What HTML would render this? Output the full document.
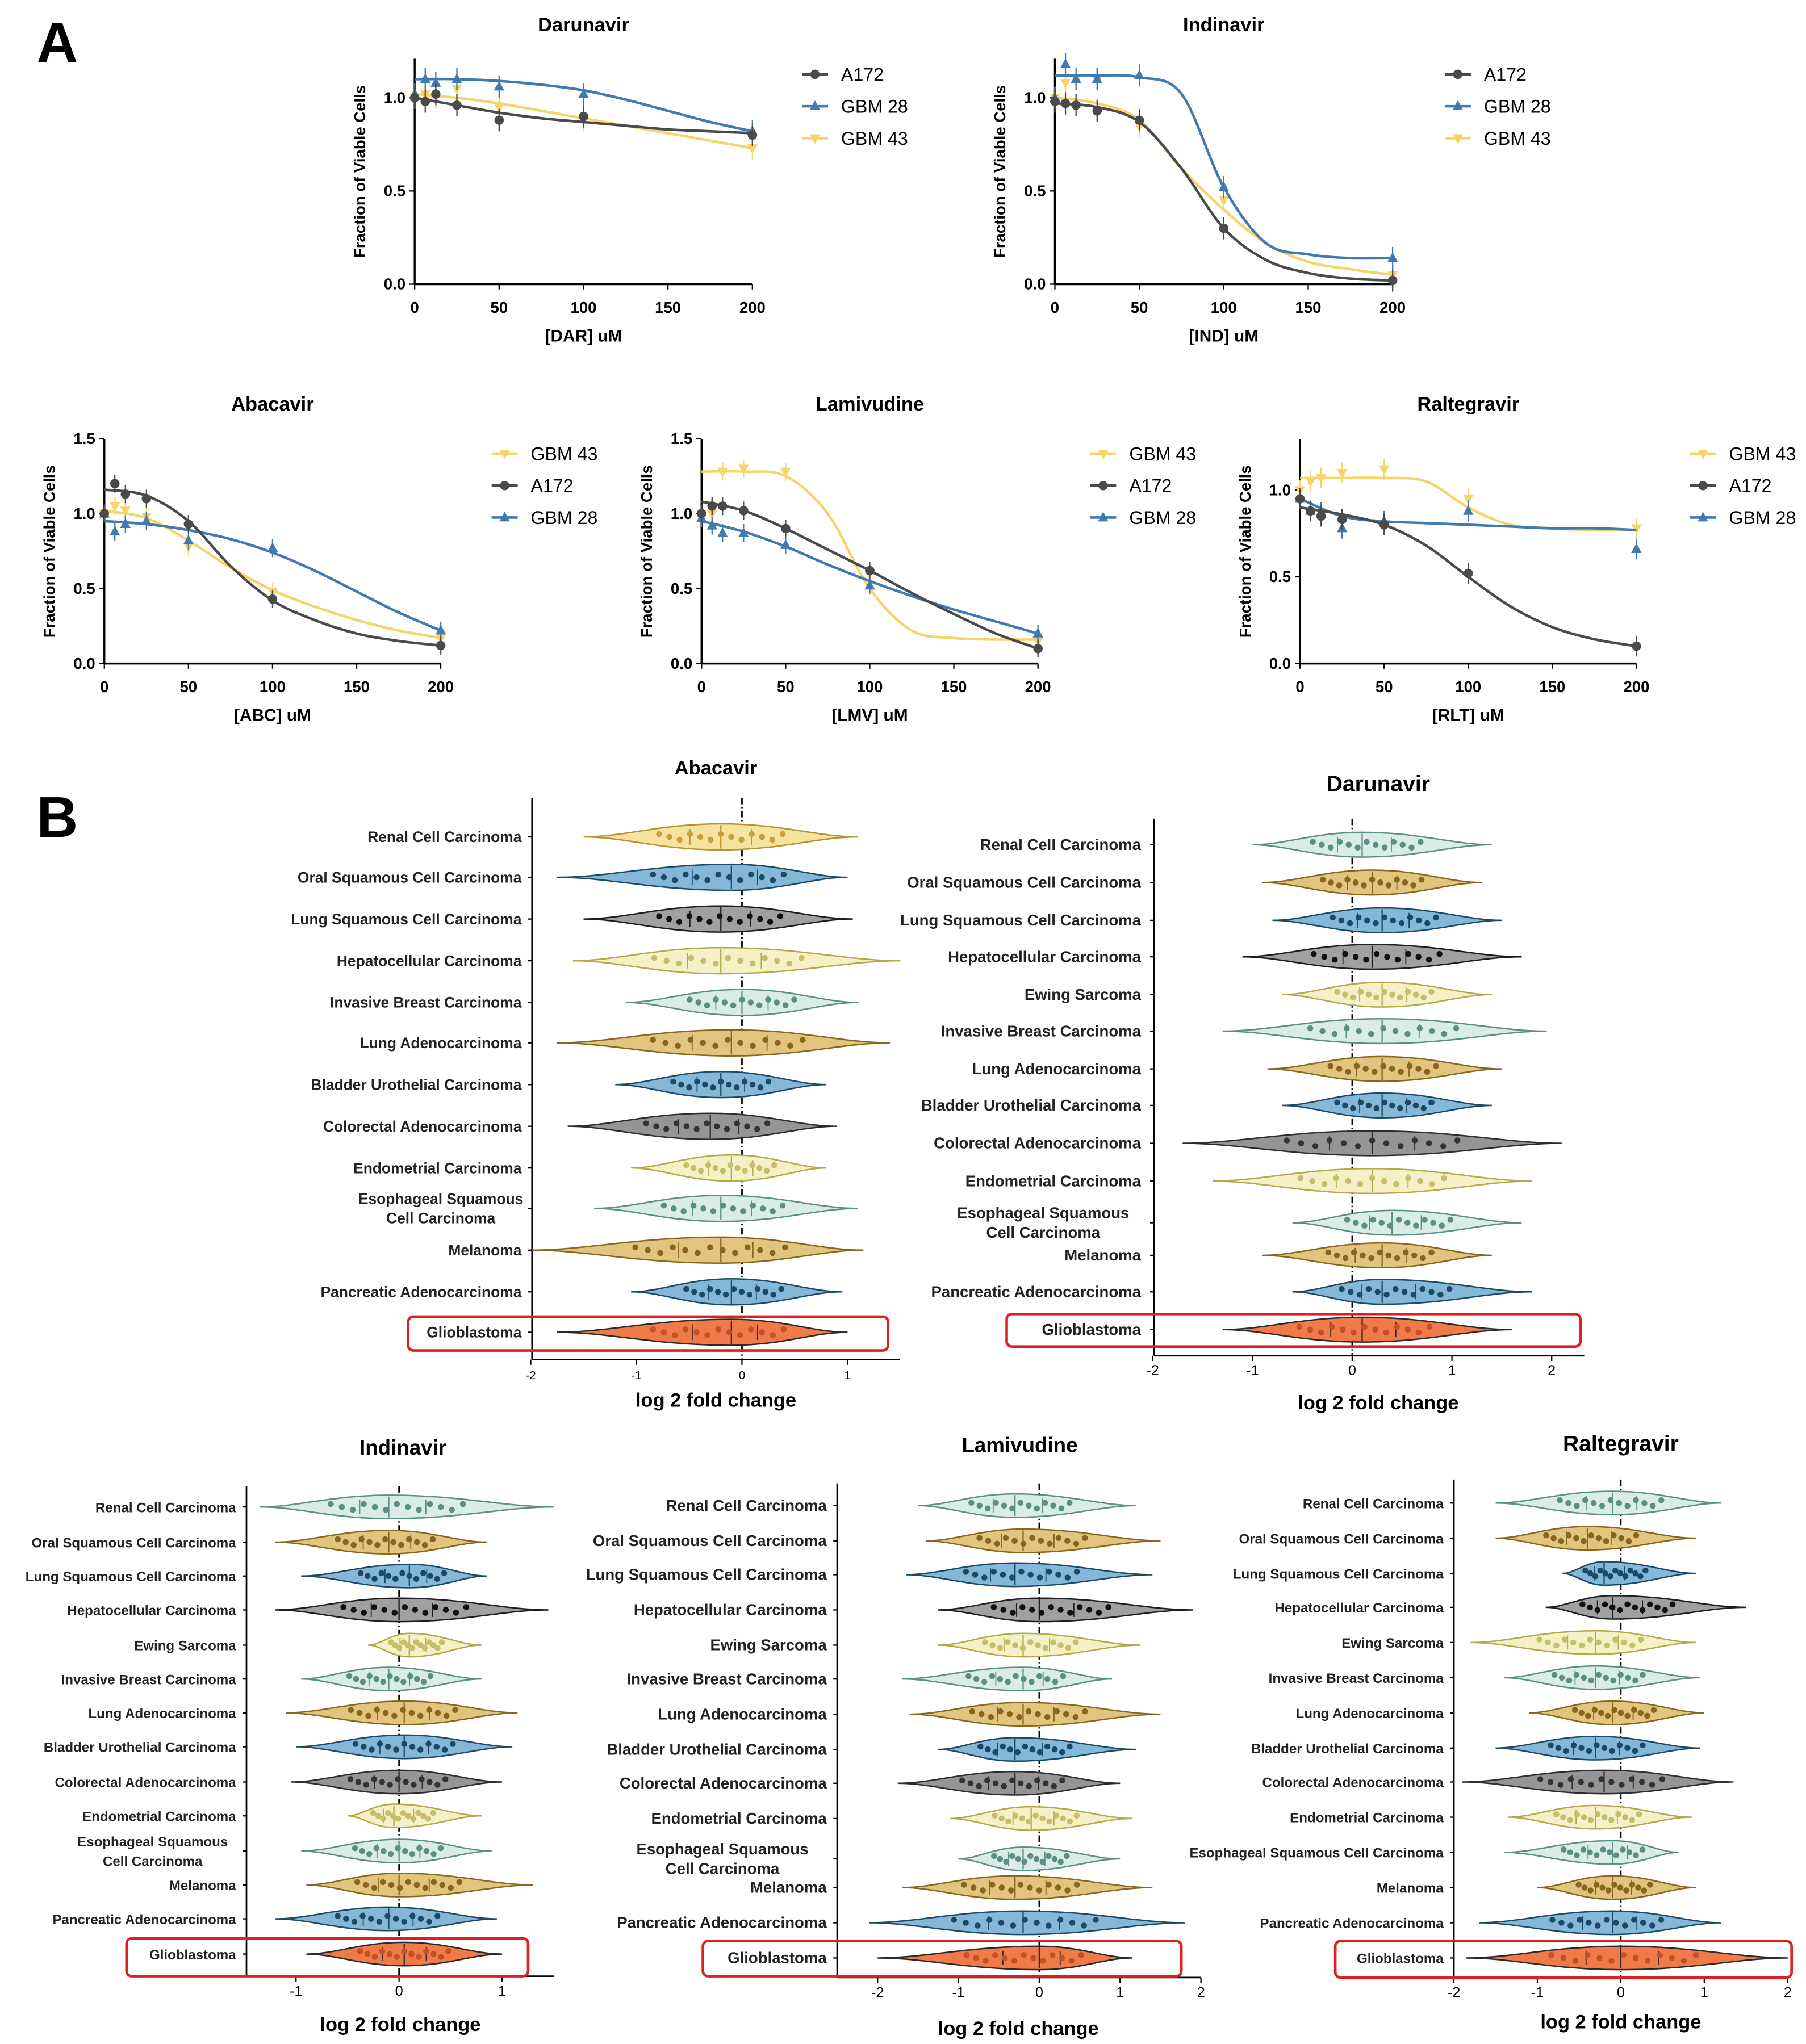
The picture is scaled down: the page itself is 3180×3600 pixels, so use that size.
<!DOCTYPE html>
<html><head><meta charset="utf-8"><style>
html,body{margin:0;padding:0;background:#fff}
svg{display:block;font-family:"Liberation Sans",Arial,sans-serif}
</style></head><body>
<svg id="fig" xmlns="http://www.w3.org/2000/svg" width="3180" height="3600" viewBox="0 0 1385 1568">
<text x="28" y="48" font-size="44" font-weight="bold">A</text>
<text x="28" y="642" font-size="44" font-weight="bold">B</text>
</svg>
<script>
const doses=[0,6.25,12.5,25,50,100,200];
const fitDoses=[0,25,50,75,100,125,150,175,200];
const darA172=[1.0,0.98,1.02,0.96,0.88,0.90,0.80];
const darGBM28=[1.02,1.10,1.08,1.10,1.06,1.02,0.82];
const darGBM43=[1.0,1.02,1.0,1.05,0.95,0.88,0.73];
const darFitA172=[1.0,0.96,0.92,0.89,0.87,0.85,0.83,0.82,0.81];
const darFitGBM28=[1.1,1.1,1.09,1.07,1.04,0.99,0.93,0.87,0.82];
const darFitGBM43=[1.02,1.0,0.97,0.93,0.89,0.85,0.81,0.77,0.73];
const indA172=[0.98,0.97,0.96,0.93,0.88,0.30,0.02];
const indGBM28=[1.0,1.18,1.1,1.1,1.12,0.52,0.14];
const indGBM43=[1.0,1.08,1.1,1.1,0.85,0.45,0.05];
const indFitA172=[0.97,0.95,0.87,0.62,0.3,0.13,0.06,0.03,0.02];
const indFitGBM28=[1.12,1.12,1.11,1.02,0.52,0.22,0.16,0.14,0.14];
const indFitGBM43=[1.0,0.97,0.88,0.62,0.4,0.22,0.12,0.08,0.05];
const abcA172=[1.0,1.2,1.13,1.1,0.93,0.43,0.12];
const abcGBM28=[1.0,0.88,0.93,0.95,0.82,0.77,0.22];
const abcGBM43=[1.0,1.05,1.02,0.98,0.78,0.48,0.17];
const abcFitA172=[1.16,1.12,0.95,0.65,0.42,0.29,0.2,0.15,0.12];
const abcFitGBM28=[0.95,0.93,0.89,0.83,0.74,0.62,0.48,0.34,0.22];
const abcFitGBM43=[1.02,0.97,0.82,0.64,0.49,0.38,0.29,0.22,0.17];
const lmvA172=[1.0,1.05,1.05,1.02,0.9,0.62,0.1];
const lmvGBM28=[0.97,0.92,0.87,0.87,0.79,0.52,0.2];
const lmvGBM43=[1.0,1.0,1.28,1.3,1.28,0.6,0.15];
const lmvFitA172=[1.08,1.02,0.9,0.76,0.62,0.47,0.33,0.2,0.1];
const lmvFitGBM28=[0.95,0.88,0.78,0.66,0.55,0.45,0.36,0.28,0.2];
const lmvFitGBM43=[1.28,1.28,1.25,1.0,0.5,0.22,0.17,0.16,0.16];
const rltA172=[0.95,0.88,0.85,0.83,0.8,0.52,0.1];
const rltGBM28=[0.95,0.88,0.87,0.78,0.82,0.88,0.66];
const rltGBM43=[1.0,1.05,1.07,1.1,1.12,0.95,0.78];
const rltFitA172=[0.9,0.86,0.8,0.68,0.5,0.33,0.21,0.14,0.1];
const rltFitGBM28=[0.95,0.85,0.82,0.81,0.8,0.79,0.78,0.78,0.77];
const rltFitGBM43=[1.07,1.07,1.07,1.05,0.9,0.8,0.78,0.77,0.77];
const xTicks=[0,50,100,150,200];

const NS="http://www.w3.org/2000/svg";
const svg=document.getElementById('fig');
function el(tag,attrs,parent,text){const e=document.createElementNS(NS,tag);for(const k in attrs)e.setAttribute(k,attrs[k]);if(text!==undefined)e.textContent=text;(parent||svg).appendChild(e);return e;}
function smooth(pts){let d=`M${pts[0][0]},${pts[0][1]}`;for(let i=0;i<pts.length-1;i++){const p0=pts[Math.max(0,i-1)],p1=pts[i],p2=pts[i+1],p3=pts[Math.min(pts.length-1,i+2)];const c1=[p1[0]+(p2[0]-p0[0])/6,p1[1]+(p2[1]-p0[1])/6],c2=[p2[0]-(p3[0]-p1[0])/6,p2[1]-(p3[1]-p1[1])/6];d+=` C${c1[0]},${c1[1]} ${c2[0]},${c2[1]} ${p2[0]},${p2[1]}`;}return d;}
const COL={A172:'#4a4a4a',GBM28:'#3f7bb0',GBM43:'#f5d56a'};
function marker(g,name,x,y){if(name==='A172')return el('circle',{cx:x,cy:y,r:3.6,fill:COL[name]},g);
 if(name==='GBM28')return el('path',{d:`M${x},${y-4.5} L${x+4},${y+3} L${x-4},${y+3}Z`,fill:COL[name]},g);
 return el('path',{d:`M${x},${y+4.5} L${x+4},${y-3} L${x-4},${y-3}Z`,fill:COL[name]},g);}
function dose(cfg){
 const g=el('g',{},svg);
 
 
 const X=v=>cfg.x0+(cfg.x1-cfg.x0)*v/200, Y=v=>cfg.y0-(cfg.y0-cfg.y1)*v;
 const t=el('text',{x:(cfg.x0+cfg.x1)/2,y:cfg.ty,'font-size':15,'font-weight':'bold','text-anchor':'middle'},g,cfg.title);
 
 el('line',{x1:cfg.x0,y1:cfg.y0,x2:cfg.x1,y2:cfg.y0,stroke:'#000','stroke-width':1.5},g);
 el('line',{x1:cfg.x0,y1:cfg.y0,x2:cfg.x0,y2:cfg.ytop,stroke:'#000','stroke-width':1.5},g);
 xTicks.forEach(v=>{el('line',{x1:X(v),x2:X(v),y1:cfg.y0,y2:cfg.y0+4,stroke:'#000'},g);
  const tl=el('text',{x:X(v),y:cfg.y0+22,'font-size':12,'font-weight':'bold','text-anchor':'middle'},g,String(v));});
 cfg.yTicks.forEach(v=>{el('line',{x1:cfg.x0-4,x2:cfg.x0,y1:Y(v),y2:Y(v),stroke:'#000'},g);
  const tl=el('text',{x:cfg.x0-7,y:Y(v)+4,'font-size':12,'font-weight':'bold','text-anchor':'end'},g,v.toFixed(1));});
 const xt=el('text',{x:(cfg.x0+cfg.x1)/2,y:cfg.y0+44,'font-size':13,'font-weight':'bold','text-anchor':'middle'},g,cfg.xlab);
 
 const yx=cfg.x0-38, yy=(cfg.y0+cfg.ytop)/2;
 const yt=el('text',{x:yx,y:yy,'font-size':12,'font-weight':'bold','text-anchor':'middle',transform:`rotate(-90 ${yx} ${yy})`},g,'Fraction of Viable Cells');
 
 cfg.series.forEach(([name,vals,fit])=>{
  const p=el('path',{d:smooth(fitDoses.map((d,i)=>[X(d),Y(fit[i])])),fill:'none',stroke:COL[name],'stroke-width':2},g);
  
  doses.forEach((d,i)=>{el('line',{x1:X(d),x2:X(d),y1:Y(vals[i]+0.06),y2:Y(vals[i]-0.06),stroke:COL[name],'stroke-width':1},g);
   const m=marker(g,name,X(d),Y(vals[i]));});
 });
 cfg.legend.forEach((name,i)=>{const ly=cfg.ly+i*24.5;
  el('line',{x1:cfg.lx,x2:cfg.lx+20,y1:ly,y2:ly,stroke:COL[name],'stroke-width':2},g);marker(g,name,cfg.lx+10,ly);
  const lt=el('text',{x:cfg.lx+30,y:ly+5,'font-size':14},g,name.replace('GBM','GBM '));});
}
dose({id:'darunavir',title:'Darunavir',ty:24,x0:318,x1:577,y0:218,y1:75,ytop:45,yTicks:[0,0.5,1.0],xlab:'[DAR] uM',series:[['GBM43',darGBM43,darFitGBM43],['GBM28',darGBM28,darFitGBM28],['A172',darA172,darFitA172]],legend:['A172','GBM28','GBM43'],lx:615,ly:57});
dose({id:'indinavir',title:'Indinavir',ty:24,x0:809,x1:1068,y0:218,y1:75,ytop:45,yTicks:[0,0.5,1.0],xlab:'[IND] uM',series:[['GBM43',indGBM43,indFitGBM43],['GBM28',indGBM28,indFitGBM28],['A172',indA172,indFitA172]],legend:['A172','GBM28','GBM43'],lx:1108,ly:57});
dose({id:'abacavir',title:'Abacavir',ty:315,x0:80,x1:338,y0:509,y1:394,ytop:337,yTicks:[0,0.5,1.0,1.5],xlab:'[ABC] uM',series:[['GBM43',abcGBM43,abcFitGBM43],['GBM28',abcGBM28,abcFitGBM28],['A172',abcA172,abcFitA172]],legend:['GBM43','A172','GBM28'],lx:377,ly:348});
dose({id:'lamivudine',title:'Lamivudine',ty:315,x0:538,x1:796,y0:509,y1:394,ytop:337,yTicks:[0,0.5,1.0,1.5],xlab:'[LMV] uM',series:[['GBM43',lmvGBM43,lmvFitGBM43],['GBM28',lmvGBM28,lmvFitGBM28],['A172',lmvA172,lmvFitA172]],legend:['GBM43','A172','GBM28'],lx:836,ly:348});
dose({id:'raltegravir',title:'Raltegravir',ty:315,x0:997,x1:1255,y0:509,y1:376,ytop:337,yTicks:[0,0.5,1.0],xlab:'[RLT] uM',series:[['GBM43',rltGBM43,rltFitGBM43],['GBM28',rltGBM28,rltFitGBM28],['A172',rltA172,rltFitA172]],legend:['GBM43','A172','GBM28'],lx:1296,ly:348});

/* ---------- Part B violins ---------- */
const abcCats=['Renal Cell Carcinoma','Oral Squamous Cell Carcinoma','Lung Squamous Cell Carcinoma','Hepatocellular Carcinoma','Invasive Breast Carcinoma','Lung Adenocarcinoma','Bladder Urothelial Carcinoma','Colorectal Adenocarcinoma','Endometrial Carcinoma','Esophageal Squamous|Cell Carcinoma','Melanoma','Pancreatic Adenocarcinoma','Glioblastoma'];
const abcMed=[-0.2,-0.1,-0.2,-0.2,0,-0.1,-0.2,-0.3,-0.1,-0.2,-0.2,-0.1,-0.1];
const abcMin=[-1.5,-1.75,-1.5,-1.6,-1.1,-1.75,-1.2,-1.65,-1.05,-1.4,-2.0,-1.05,-1.75];
const abcMax=[1.1,1.0,1.05,1.5,1.1,1.4,0.8,0.9,0.8,1.1,1.15,0.95,1.0];
const fullCats=['Renal Cell Carcinoma','Oral Squamous Cell Carcinoma','Lung Squamous Cell Carcinoma','Hepatocellular Carcinoma','Ewing Sarcoma','Invasive Breast Carcinoma','Lung Adenocarcinoma','Bladder Urothelial Carcinoma','Colorectal Adenocarcinoma','Endometrial Carcinoma','Esophageal Squamous|Cell Carcinoma','Melanoma','Pancreatic Adenocarcinoma','Glioblastoma'];
const darMed=[0.1,0.2,0.3,0.2,0.3,0.3,0.3,0.3,0.2,0.2,0.4,0.3,0.3,0.1];
const darMin=[-1.0,-0.9,-0.8,-1.1,-0.7,-1.3,-0.85,-0.7,-1.7,-1.4,-0.6,-0.9,-0.6,-1.3];
const darMax=[1.4,1.3,1.5,1.7,1.4,1.95,1.5,1.4,2.1,1.8,1.7,1.4,1.8,1.6];
const indMed=[-0.1,-0.1,0.1,0,0.1,-0.1,0.05,0.05,0,-0.05,0,0,-0.1,0.05];
const indMin=[-1.35,-1.2,-0.95,-1.2,-0.3,-0.95,-1.1,-1.0,-1.05,-0.5,-0.95,-0.9,-1.2,-0.9];
const indMax=[1.5,0.85,0.85,1.45,0.8,0.8,1.15,1.1,1.0,0.8,0.9,1.3,0.95,1.0];
const lmvMed=[-0.3,-0.2,-0.3,0,-0.2,-0.2,-0.2,-0.3,-0.3,-0.1,-0.2,-0.3,-0.2,0];
const lmvMin=[-1.5,-1.4,-1.65,-1.25,-1.25,-1.7,-1.6,-1.25,-1.75,-1.1,-1.0,-1.7,-2.1,-2.0];
const lmvMax=[1.2,1.5,1.4,1.9,1.25,0.9,1.5,1.2,1.0,1.15,1.0,1.4,1.8,1.15];
const rltMed=[-0.1,-0.4,-0.2,-0.1,-0.3,-0.3,-0.1,-0.3,-0.2,-0.3,-0.1,-0.1,-0.1,0];
const rltMin=[-1.5,-1.5,-0.7,-0.9,-1.8,-1.4,-1.1,-1.5,-1.9,-1.35,-1.4,-1.0,-1.7,-1.85];
const rltMax=[1.2,0.9,0.9,1.5,0.9,0.95,1.0,0.95,1.35,0.85,0.7,0.9,1.2,2.0];

const PAL={yel:['#f6e3a0','#b8922e','#c9a040'],blu:['#84b7d8','#1c4a66','#1c4a66'],blk:['#a0a0a0','#1e1e1e','#111'],olv:['#f5f0c6','#b3a84a','#c8bd6a'],tea:['#d9ece5','#5c8f84','#5c8f84'],gld:['#e3c47e','#87661d','#87661d'],gry:['#959595','#2d2d2d','#333'],org:['#f07a48','#2a2a2a','#c4502a']};
const abcPal=['yel','blu','blk','olv','tea','gld','blu','gry','olv','tea','gld','blu','org'];
const fullPal=['tea','gld','blu','blk','olv','tea','gld','blu','gry','olv','tea','gld','blu','org'];

function violin(cfg){
 const g=el('g',{},svg);
 
 
 const X=v=>cfg.zx+v*cfg.unit;
 const t=el('text',{x:cfg.tx,y:cfg.ty,'font-size':cfg.tfs,'font-weight':'bold','text-anchor':'middle'},g,cfg.title);
 
 el('line',{x1:cfg.ax0,x2:cfg.ax1,y1:cfg.ay,y2:cfg.ay,stroke:'#000','stroke-width':1.2},g);
 el('line',{x1:cfg.ax0,x2:cfg.ax0,y1:cfg.vtop,y2:cfg.ay,stroke:'#000','stroke-width':1.2},g);
 el('line',{x1:X(0),x2:X(0),y1:cfg.vtop,y2:cfg.ay,stroke:'#000','stroke-width':1.2,'stroke-dasharray':'5,2,1,2'},g);
 cfg.ticks.forEach(v=>{el('line',{x1:X(v),x2:X(v),y1:cfg.ay,y2:cfg.ay+4,stroke:'#000'},g);
  const tl=el('text',{x:X(v),y:cfg.ay+15,'font-size':cfg.tickfs,'text-anchor':'middle'},g,String(v));});
 const xt=el('text',{x:cfg.xlx,y:cfg.xly,'font-size':15,'font-weight':'bold','text-anchor':'middle'},g,'log 2 fold change');
 
 const hw=cfg.hw;
 cfg.cats.forEach((c,i)=>{
  const y=cfg.rows[i], p=PAL[cfg.pal[i]];
  const mn=X(cfg.min[i]), mx=X(cfg.max[i]), md=X(cfg.med[i]);
  const lo=X(cfg.med[i]-0.45*(cfg.med[i]-cfg.min[i])), hi=X(cfg.med[i]+0.45*(cfg.max[i]-cfg.med[i]));
  const lo2=X(cfg.med[i]-0.7*(cfg.med[i]-cfg.min[i])), hi2=X(cfg.med[i]+0.7*(cfg.max[i]-cfg.med[i]));
  const d=`M${mn},${y} C${lo2},${y} ${lo},${y-hw} ${md},${y-hw} C${hi},${y-hw} ${hi2},${y} ${mx},${y} C${hi2},${y} ${hi},${y+hw} ${md},${y+hw} C${lo},${y+hw} ${lo2},${y} ${mn},${y}Z`;
  const v=el('path',{d,fill:p[0],stroke:p[1],'stroke-width':1.1},g);
  
  
  el('line',{x1:md,x2:md,y1:y-hw+1,y2:y+hw-1,stroke:p[1],'stroke-width':1},g);
  el('line',{x1:(lo+md)/2,x2:(lo+md)/2,y1:y-hw*0.6,y2:y+hw*0.6,stroke:p[1],'stroke-width':0.8},g);
  el('line',{x1:(hi+md)/2,x2:(hi+md)/2,y1:y-hw*0.6,y2:y+hw*0.6,stroke:p[1],'stroke-width':0.8},g);
  for(let k=0;k<=12;k++){const dx=lo+(hi-lo)*k/12;const dy=y+((k%3)-1)*2.2;
   el('circle',{cx:dx,cy:dy,r:2.3,fill:p[2]},g);}
  const parts=c.split('|');
  parts.forEach((s,j)=>{const lt=el('text',{x:cfg.lx-(parts.length>1?cfg.wrapIndent:0),y:y+4+(j-(parts.length-1)/2)*15,'font-size':cfg.lfs,'font-weight':'bold','text-anchor':parts.length>1?'middle':'end',fill:'#222'},g,s);
   });
  el('line',{x1:cfg.ax0-3,x2:cfg.ax0,y1:y,y2:y,stroke:'#000'},g);
 });
 const b=el('rect',{x:cfg.box[0],y:cfg.box[1],width:cfg.box[2]-cfg.box[0],height:cfg.box[3]-cfg.box[1],rx:4,fill:'none',stroke:'#e02020','stroke-width':2},g);
 
}
violin({id:'abacavir',title:'Abacavir',tx:549,ty:594,tfs:15,zx:569,unit:81,ax0:408,ax1:690,ay:1043,vtop:612,ticks:[-2,-1,0,1],tickfs:9,xlx:549,xly:1079,hw:10,
 cats:abcCats,med:abcMed,min:abcMin,max:abcMax,pal:abcPal,rows:[642,673,705,737,769,800,832,864,896,927,959,991,1022],lx:400,lfs:11.5,wrapIndent:62,box:[313,1010,681,1036]});
violin({id:'darunavir',title:'Darunavir',tx:1057,ty:607,tfs:17,zx:1037,unit:76.5,ax0:885,ax1:1215,ay:1040,vtop:628,ticks:[-2,-1,0,1,2],tickfs:11,xlx:1057,xly:1081,hw:9.5,
 cats:fullCats,med:darMed,min:darMin,max:darMax,pal:fullPal,rows:[648,677,706,734,763,791,820,848,877,906,938,963,991,1020],lx:875,lfs:12,wrapIndent:75,box:[772,1008,1212,1033]});
violin({id:'indinavir',title:'Indinavir',tx:309,ty:1116,tfs:16,zx:306,unit:79,ax0:189,ax1:425,ay:1516,vtop:1140,ticks:[-1,0,1],tickfs:11,xlx:307,xly:1558,hw:9,
 cats:fullCats,med:indMed,min:indMin,max:indMax,pal:fullPal,rows:[1156,1183,1209,1235,1262,1288,1314,1340,1367,1393,1420,1446,1472,1499],lx:181,lfs:10.5,wrapIndent:64,box:[97,1487,405,1516]});
violin({id:'lamivudine',title:'Lamivudine',tx:782,ty:1114,tfs:16,zx:797,unit:62,ax0:642,ax1:921,ay:1517,vtop:1138,ticks:[-2,-1,0,1,2],tickfs:11,xlx:781,xly:1561,hw:9,
 cats:fullCats,med:lmvMed,min:lmvMin,max:lmvMax,pal:fullPal,rows:[1155,1182,1208,1235,1262,1288,1315,1342,1368,1395,1426,1448,1475,1502],lx:634,lfs:12,wrapIndent:80,box:[539,1489,906,1516]});
violin({id:'raltegravir',title:'Raltegravir',tx:1243,ty:1113,tfs:17,zx:1243,unit:64,ax0:1115,ax1:1371,ay:1517,vtop:1135,ticks:[-2,-1,0,1,2],tickfs:11,xlx:1243,xly:1556,hw:9,
 cats:fullCats.map(c=>c.replace('|',' ')),med:rltMed,min:rltMin,max:rltMax,pal:fullPal,rows:[1153,1180,1207,1233,1260,1287,1314,1341,1367,1394,1421,1448,1475,1502],lx:1107,lfs:10.5,wrapIndent:0,box:[1024,1489,1374,1517]});
</script>
</body></html>
